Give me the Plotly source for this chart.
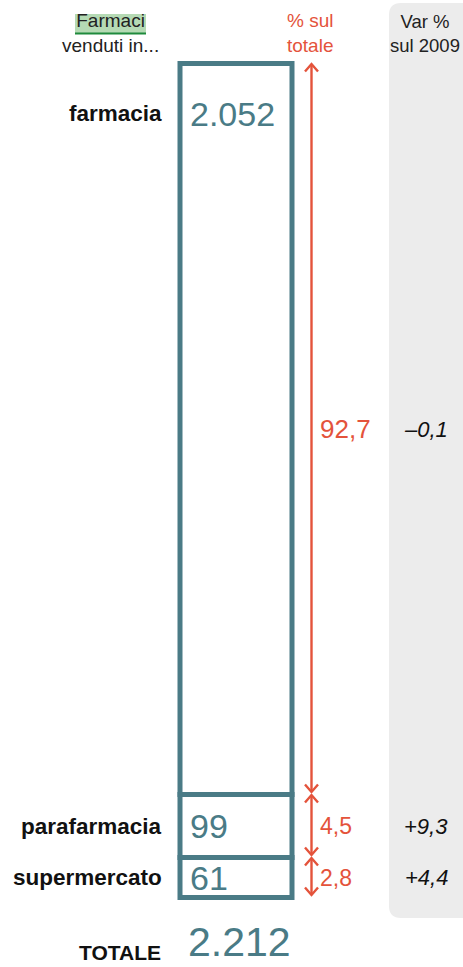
import plotly.graph_objects as go

# ---------------- data ----------------
categories = ["farmacia", "parafarmacia", "supermercato"]
values_label = ["2.052", "99", "61"]          # millions of packs sold
values = [2052, 99, 61]
pct_label = ["92,7", "4,5", "2,8"]             # % sul totale
var_label = ["\u20130,1", "+9,3", "+4,4"]      # Var % sul 2009
total_label = "2.212"

# ---------------- layout constants (drawing geometry) ----------------
W, H = 463, 967
TEAL = "#4a7b86"
RED = "#e4533b"
GRAY = "#ececec"
FONT = "Liberation Sans, Arial, sans-serif"

box_top = 63.5
seg_heights = [731, 63, 40]     # drawn heights of the stacked boxes (not proportional in original)
box_x0, box_x1 = 180, 292
arrow_x = 311.5
pct_sizes = [26, 23, 23]

bases = []
acc = box_top
for h in seg_heights:
    bases.append(acc)
    acc += h

fig = go.Figure()

# gray panel for Var %
fig.add_shape(type="path",
              path="M 389,15 Q 389,3 401,3 L 490,3 L 490,918 L 401,918 Q 389,918 389,906 Z",
              fillcolor=GRAY, line=dict(width=0), layer="below", xref="x", yref="y")

# green highlight on "Farmaci"
fig.add_shape(type="rect", x0=75, x1=146, y0=14, y1=33.5, fillcolor="#b5dab4",
              line=dict(width=0), layer="below", xref="x", yref="y")
fig.add_shape(type="line", x0=75, x1=146, y0=33.5, y1=33.5,
              line=dict(color="#1f8a3c", width=2), xref="x", yref="y")

# stacked boxes
fig.add_trace(go.Bar(
    x=[(box_x0 + box_x1) / 2] * len(categories), y=seg_heights, base=bases,
    width=box_x1 - box_x0,
    marker=dict(color="white", line=dict(color=TEAL, width=5)),
    hoverinfo="skip", showlegend=False))

# double-headed arrows
ax, ay = [], []
for b, h in zip(bases, seg_heights):
    t, btm = b + 0.5, b + h - 2.5
    ax += [arrow_x, arrow_x, None]
    ay += [t, btm, None]
    ax += [arrow_x - 6.5, arrow_x, arrow_x + 6.5, None]
    ay += [t + 7.5, t, t + 7.5, None]
    ax += [arrow_x - 6.5, arrow_x, arrow_x + 6.5, None]
    ay += [btm - 7.5, btm, btm - 7.5, None]
fig.add_trace(go.Scatter(x=ax, y=ay, mode="lines", line=dict(color=RED, width=2.4),
                         hoverinfo="skip", showlegend=False))

ann = []
def A(x, y, text, size, color="#222", xanchor="center", yanchor="middle", **kw):
    ann.append(dict(x=x, y=y, xref="x", yref="y", text=text, showarrow=False,
                    xanchor=xanchor, yanchor=yanchor,
                    font=dict(family=FONT, size=size, color=color), **kw))

# headers
A(110, 33, "Farmaci<br>venduti in...", 19, "#222")
A(310, 33, "% sul<br>totale", 19, RED)
A(425, 33, "Var %<br>sul 2009", 18.5, "#222")

for i, cat in enumerate(categories):
    top = bases[i]
    mid = top + seg_heights[i] / 2
    ylab = min(mid, top + 50)
    A(164, ylab, "<b>" + cat + "</b>", 22.5, "#111", xanchor="right")
    A(188, ylab, values_label[i], 34, TEAL, xanchor="left")
    A(318, mid, pct_label[i], pct_sizes[i], RED, xanchor="left")
    A(426, mid, "<i>" + var_label[i] + "</i>", 22, "#111")

A(163, 966, "<b>TOTALE</b>", 21, "#111", xanchor="right", yanchor="bottom")
A(186, 967, total_label, 41, TEAL, xanchor="left", yanchor="bottom")

fig.update_layout(
    width=W, height=H, margin=dict(l=0, r=0, t=0, b=0),
    paper_bgcolor="white", plot_bgcolor="white",
    barmode="overlay",
    xaxis=dict(range=[0, W], visible=False, fixedrange=True),
    yaxis=dict(range=[H, 0], visible=False, fixedrange=True),
    annotations=ann,
)

fig.write_html("out.html")
